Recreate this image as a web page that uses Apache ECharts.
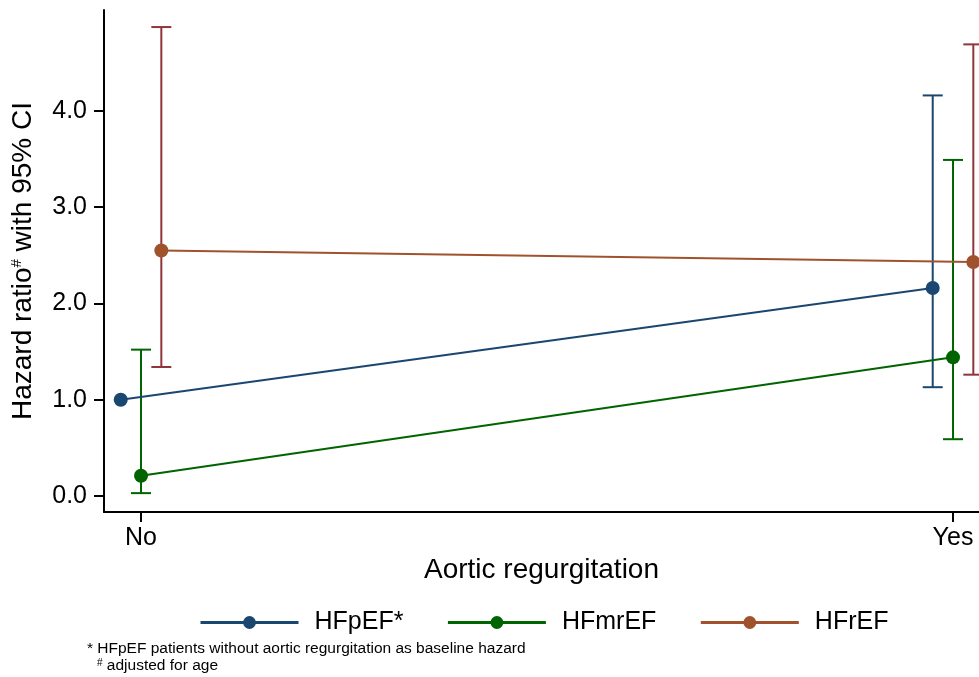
<!DOCTYPE html>
<html><head><meta charset="utf-8">
<script src="https://cdn.jsdelivr.net/npm/echarts@6/dist/echarts.min.js"></script>
<style>html,body{margin:0;padding:0;background:#fff}#c{width:979px;height:677px}</style>
</head><body><div id="c"></div>
<script>
var categories = ['No', 'Yes'];
var seriesNames = ['HFpEF*', 'HFmrEF', 'HFrEF'];
var hfpef = [1.00, 2.16];
var hfpefLo = [null, 1.13];
var hfpefHi = [null, 4.16];
var hfmref = [0.21, 1.44];
var hfmrefLo = [0.03, 0.59];
var hfmrefHi = [1.52, 3.49];
var hfref = [2.55, 2.43];
var hfrefLo = [1.34, 1.26];
var hfrefHi = [4.87, 4.69];
var yTicks = [0, 1, 2, 3, 4];

var FONT = '"Liberation Sans", Arial, Helvetica, sans-serif';
var dodge = [-0.025, 0, 0.025];
var lineColors = ['#1a476f', '#006400', '#a0522d'];
var ciColors = ['#1a476f', '#006400', '#90353b'];
var vals = [hfpef, hfmref, hfref];
var los = [hfpefLo, hfmrefLo, hfrefLo];
var his = [hfpefHi, hfmrefHi, hfrefHi];

var chart = echarts.init(document.getElementById('c'), null, {renderer: 'canvas'});
var series = [];
for (var s = 0; s < 3; s++) {
  var ciData = [];
  for (var i = 0; i < categories.length; i++) {
    if (los[s][i] != null) ciData.push([i + dodge[s], los[s][i], his[s][i]]);
  }
  (function (col) {
    series.push({
      type: 'custom', silent: true, z: 2,
      data: ciData,
      encode: {x: 0, y: [1, 2]},
      renderItem: function (params, api) {
        var x = api.value(0);
        var lo = api.coord([x, api.value(1)]);
        var hi = api.coord([x, api.value(2)]);
        var hw = 10;
        var st = {stroke: col, lineWidth: 2, fill: null};
        return {type: 'group', children: [
          {type: 'line', shape: {x1: lo[0], y1: lo[1], x2: hi[0], y2: hi[1]}, style: st},
          {type: 'line', shape: {x1: lo[0] - hw, y1: lo[1], x2: lo[0] + hw, y2: lo[1]}, style: st},
          {type: 'line', shape: {x1: hi[0] - hw, y1: hi[1], x2: hi[0] + hw, y2: hi[1]}, style: st}
        ]};
      }
    });
  })(ciColors[s]);
  var d = [];
  for (var j = 0; j < categories.length; j++) d.push([j + dodge[s], vals[s][j]]);
  series.push({
    type: 'line', name: seriesNames[s], data: d, z: 3,
    symbol: 'circle', symbolSize: 14, showSymbol: true,
    lineStyle: {color: lineColors[s], width: 2},
    itemStyle: {color: lineColors[s]},
    emphasis: {disabled: true}, animation: false
  });
}

var option = {
  animation: false,
  backgroundColor: '#fff',
  textStyle: {fontFamily: FONT},
  grid: {left: 104, right: 0, top: 10, bottom: 165, containLabel: false, outerBoundsMode: 'none'},
  xAxis: {
    type: 'value', min: -0.0456, max: 1.032,
    name: 'Aortic regurgitation', nameLocation: 'middle', nameGap: 41,
    nameTextStyle: {fontSize: 28, color: '#000', fontFamily: FONT},
    axisLine: {show: true, onZero: false, lineStyle: {color: '#000', width: 2}},
    axisTick: {show: true, customValues: [0, 1], length: 10, lineStyle: {color: '#000', width: 2}},
    axisLabel: {customValues: [0, 1], formatter: function (v) { return categories[Math.round(v)]; },
      fontSize: 25, color: '#000', margin: 14, fontFamily: FONT},
    splitLine: {show: false}
  },
  yAxis: {
    type: 'value', min: -0.166, max: 5.047,
    name: '{a|Hazard ratio}{s|#}{a| with 95% CI}', nameLocation: 'middle', nameGap: 67, nameRotate: 90,
    nameTextStyle: {rich: {
      a: {fontSize: 28, color: '#000', fontFamily: FONT},
      s: {fontSize: 15, color: '#000', fontFamily: FONT, verticalAlign: 'top', padding: [0, 0, 12, 0]}
    }},
    axisLine: {show: true, onZero: false, lineStyle: {color: '#000', width: 2}},
    axisTick: {show: true, customValues: yTicks, length: 10, lineStyle: {color: '#000', width: 2}},
    axisLabel: {customValues: yTicks, formatter: function (v) { return v.toFixed(1); },
      fontSize: 25, color: '#000', margin: 17, fontFamily: FONT},
    splitLine: {show: false}
  },
  legend: {
    data: seriesNames, left: 199, top: 610, padding: 0, itemWidth: 98, itemHeight: 16, itemGap: 43,
    lineStyle: {width: 3},
    textStyle: {fontSize: 25, color: '#000', fontFamily: FONT, padding: [0, 0, 0, 11]},
    selectedMode: false
  },
  graphic: [
    {type: 'text', left: 87, top: 641, style: {text: '* HFpEF patients without aortic regurgitation as baseline hazard', fontSize: 15.5, fill: '#000', fontFamily: FONT}},
    {type: 'text', left: 97, top: 658, style: {text: '{s|#} adjusted for age', fontSize: 15.5, fill: '#000', fontFamily: FONT,
      rich: {s: {fontSize: 10, verticalAlign: 'top', fill: '#000', fontFamily: FONT}}}}
  ],
  series: series
};
chart.setOption(option);
</script></body></html>
